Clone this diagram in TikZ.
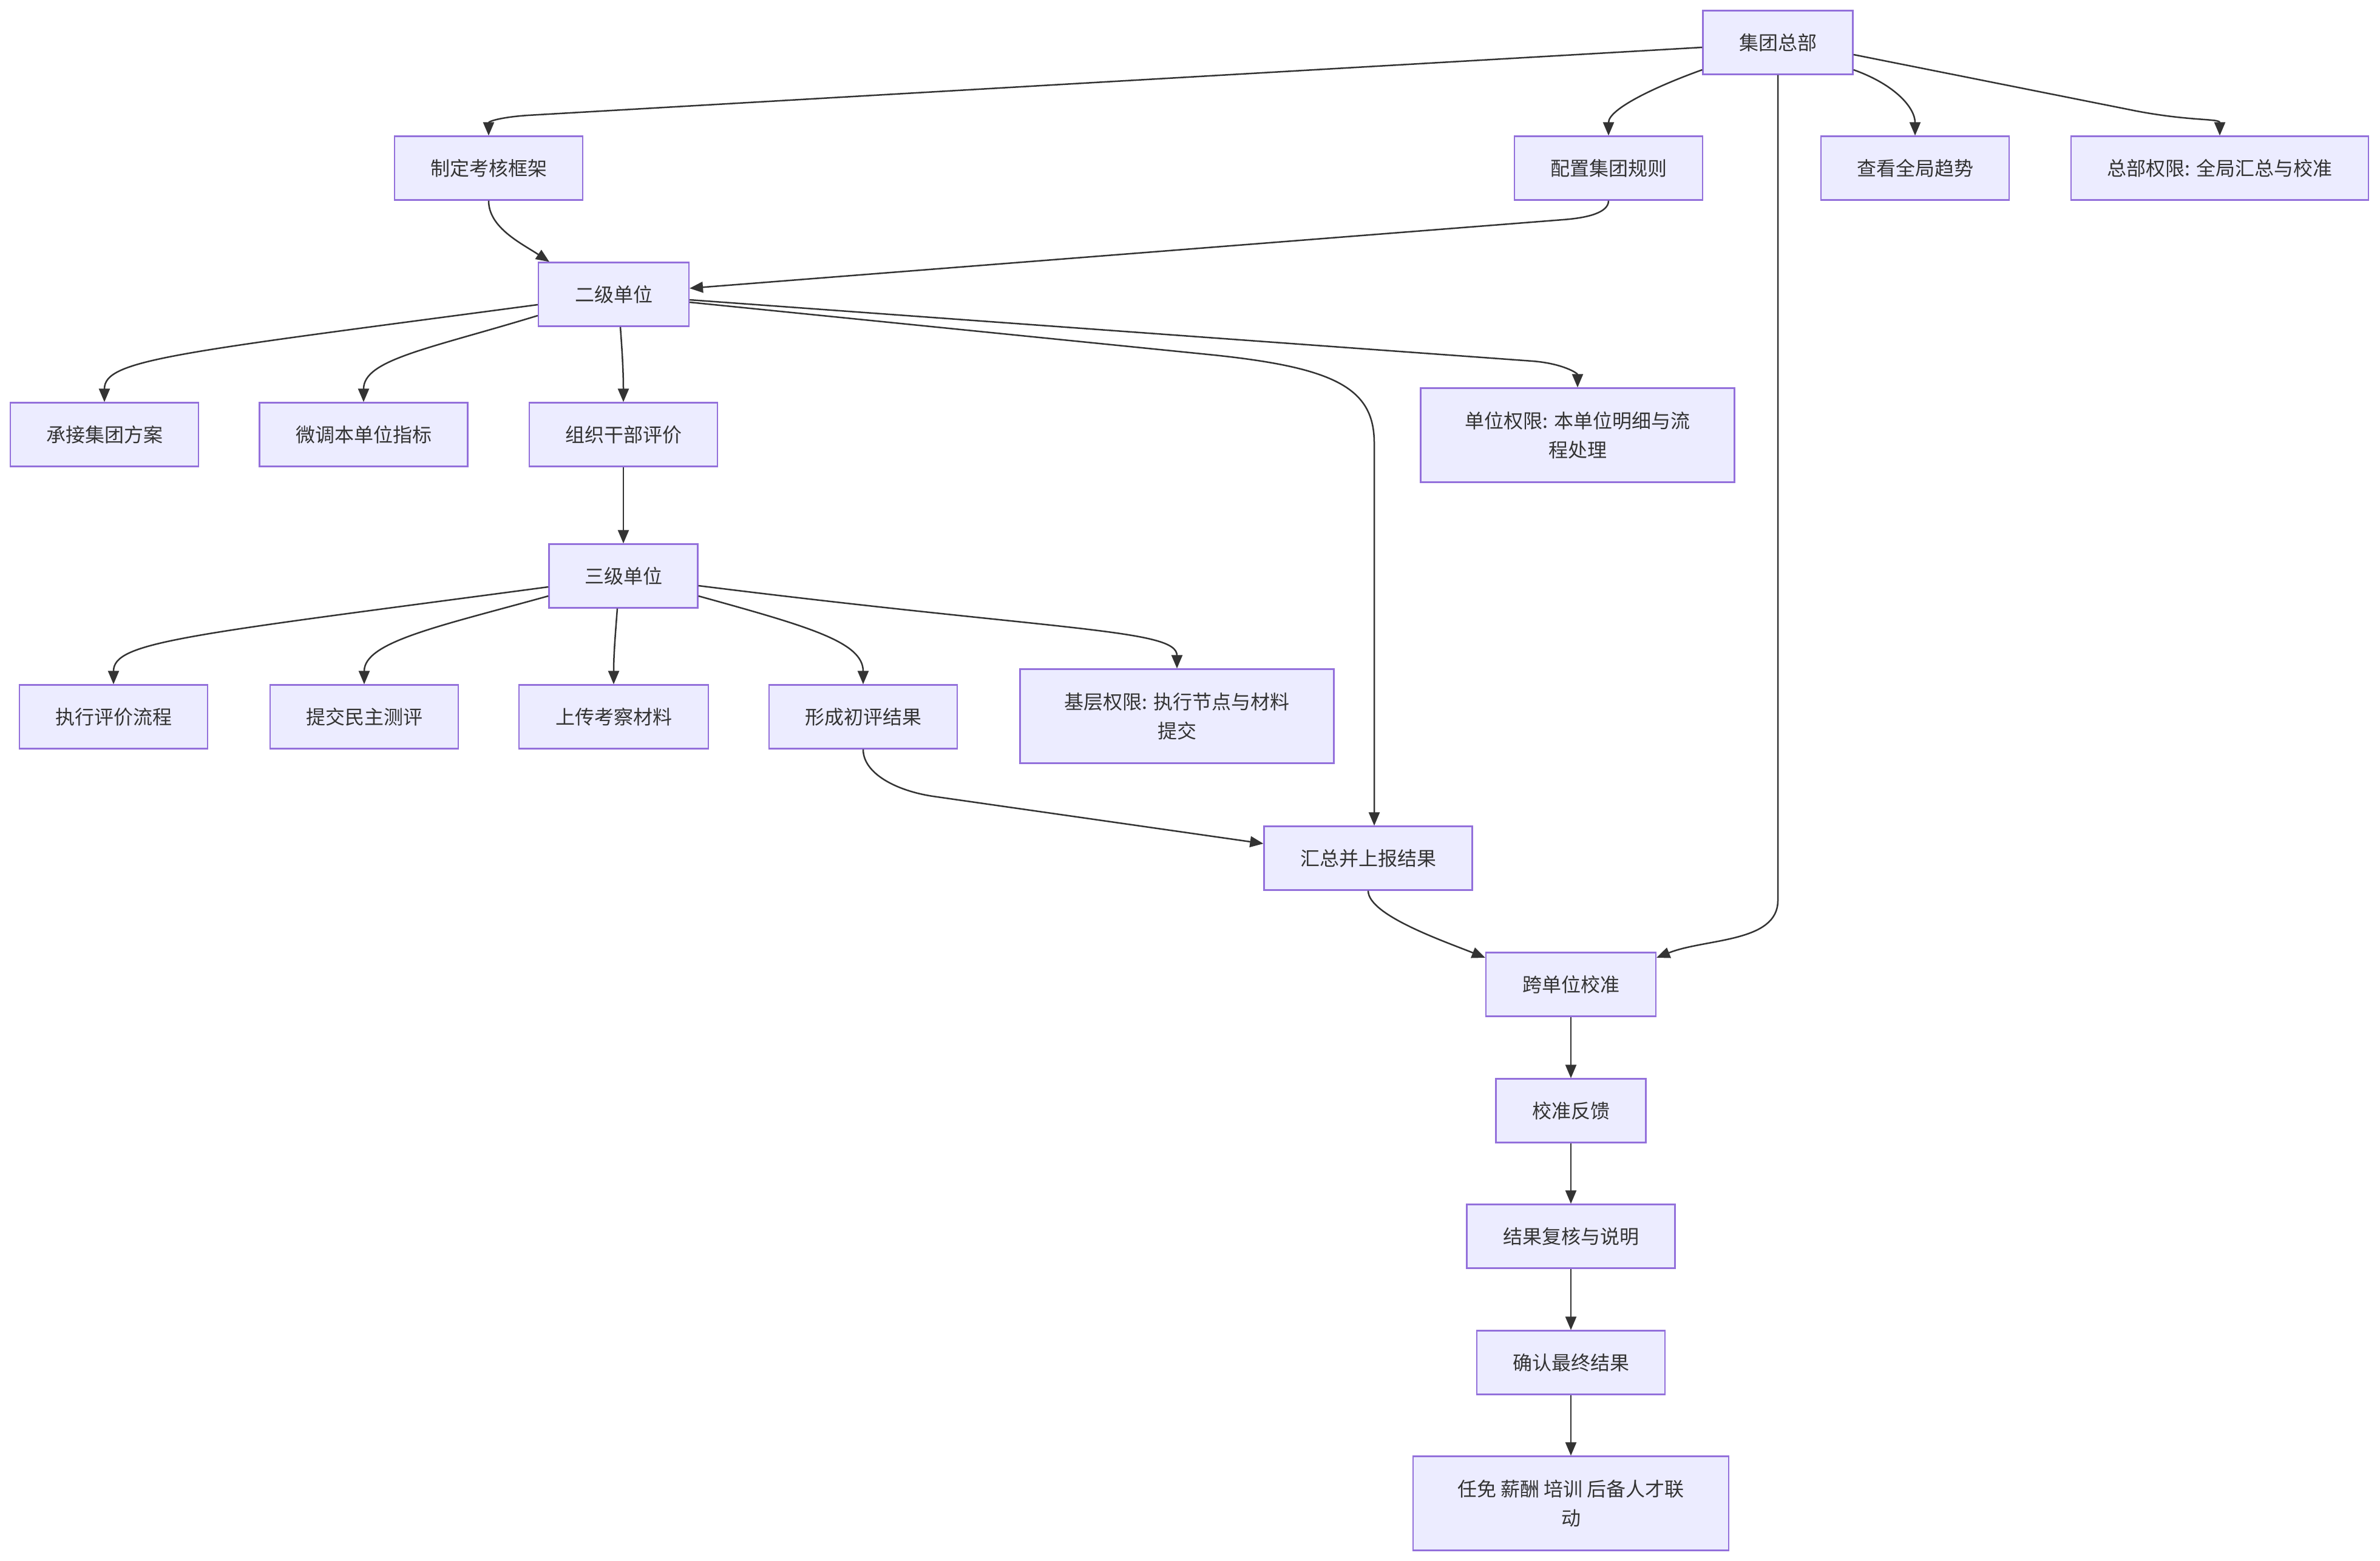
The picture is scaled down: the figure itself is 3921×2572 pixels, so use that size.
\documentclass[tikz,border=0pt]{standalone}
\usepackage{fontspec}
\setmainfont{Noto Sans CJK SC}
\usetikzlibrary{arrows.meta,calc}
\definecolor{nodefill}{HTML}{ECECFF}
\definecolor{nodeborder}{HTML}{9370DB}
\definecolor{edgecol}{HTML}{333333}
\definecolor{txt}{HTML}{333333}
\begin{document}
\begin{tikzpicture}[x=1pt,y=-1pt,
 box/.style={draw=nodeborder,fill=nodefill,line width=2.2pt,text=txt,font=\fontsize{32}{48}\selectfont,inner sep=0pt,align=center,minimum height=105pt},
 edge/.style={draw=edgecol,line width=2.5pt,-{Triangle[length=22pt,width=18pt]}}]
\path[fill=white,use as bounding box] (0,0) rectangle (3921,2572);

\node[box,minimum width=247pt] (A) at (2929,70) {集团总部};
\node[box,minimum width=310pt] (B) at (805,277) {制定考核框架};
\node[box,minimum width=310pt] (C) at (2650,277) {配置集团规则};
\node[box,minimum width=310pt] (D) at (3155,277) {查看全局趋势};
\node[box,minimum width=490pt] (E) at (3657,277) {总部权限: 全局汇总与校准};
\node[box,minimum width=248pt] (F) at (1011,485) {二级单位};
\node[box,minimum width=310pt] (G) at (172,716) {承接集团方案};
\node[box,minimum width=343pt] (H) at (599,716) {微调本单位指标};
\node[box,minimum width=310pt] (I) at (1027,716) {组织干部评价};
\node[box,minimum width=517pt,minimum height=155pt] (J) at (2599,717) {单位权限: 本单位明细与流\\程处理};
\node[box,minimum width=245pt] (K) at (1027,949) {三级单位};
\node[box,minimum width=310pt] (L) at (187,1181) {执行评价流程};
\node[box,minimum width=310pt] (M) at (600,1181) {提交民主测评};
\node[box,minimum width=312pt] (N) at (1011,1181) {上传考察材料};
\node[box,minimum width=310pt] (O) at (1422,1181) {形成初评结果};
\node[box,minimum width=517pt,minimum height=155pt] (P) at (1939,1180) {基层权限: 执行节点与材料\\提交};
\node[box,minimum width=343pt] (Q) at (2254,1414) {汇总并上报结果};
\node[box,minimum width=280pt] (R) at (2588,1622) {跨单位校准};
\node[box,minimum width=247pt] (S) at (2588,1830) {校准反馈};
\node[box,minimum width=343pt] (T) at (2588,2037) {结果复核与说明};
\node[box,minimum width=310pt] (U) at (2588,2245) {确认最终结果};
\node[box,minimum width=520pt,minimum height=155pt] (V) at (2588,2477) {任免 薪酬 培训 后备人才联\\动};

% from A
\draw[edge] ([yshift=-8pt]A.west) -- (870,190) .. controls (825,193) and (805,200) .. (B.north);
\draw[edge] ([yshift=-45pt]A.west) .. controls +(-70,25) and +(0,-45) .. (C.north);
\draw[edge] ([yshift=-45pt]A.east) .. controls +(70,25) and +(0,-45) .. (D.north);
\draw[edge] ([yshift=-20pt]A.east) -- (3520,183) .. controls (3610,200) and (3657,195) .. (E.north);
\draw[edge] (A.south) -- ++(0,1360) .. controls +(0,70) and +(80,-32) .. ([yshift=44pt]R.east);
% into F
\draw[edge] (B.south) .. controls +(0,45) and +(-45,-30) .. ([xshift=-106pt]F.north);
\draw[edge] (C.south) .. controls +(0,20) and +(40,-3) .. (2575,362) -- ([yshift=10pt]F.east);
% from F
\draw[edge] ([yshift=-17pt]F.west) .. controls +(-600,80) and +(0,-70) .. (G.north);
\draw[edge] ([yshift=-35pt]F.west) .. controls +(-180,55) and +(0,-70) .. (H.north);
\draw[edge] ([xshift=11pt]F.south) .. controls +(3,40) and +(0,-50) .. (I.north);
\draw[edge] ([yshift=-9pt]F.east) -- (2525,595) .. controls (2575,599) and (2599,615) .. (J.north);
\draw[edge] ([yshift=-13pt]F.east) -- (2000,585) .. controls (2200,606) and (2264,640) .. (2264,730) -- ([xshift=10pt]Q.north);
% I to K
\draw[edge] (I.south) -- (K.north);
% from K
\draw[edge] ([yshift=-18pt]K.west) .. controls +(-600,80) and +(0,-70) .. (L.north);
\draw[edge] ([yshift=-33pt]K.west) .. controls +(-180,50) and +(0,-70) .. (M.north);
\draw[edge] ([xshift=-10pt]K.south) .. controls +(-3,40) and +(0,-50) .. (N.north);
\draw[edge] ([yshift=-33pt]K.east) .. controls +(180,50) and +(0,-70) .. (O.north);
\draw[edge] ([yshift=-16pt]K.east) .. controls +(600,75) and +(0,-65) .. (P.north);
% O to Q
\draw[edge] (O.south) .. controls +(0,40) and +(-60,-9) .. (1537,1312) -- ([yshift=24pt]Q.west);
% Q to R
\draw[edge] (Q.south) .. controls +(0,40) and +(-70,-28) .. ([yshift=44pt]R.west);
% chain
\draw[edge] (R.south) -- (S.north);
\draw[edge] (S.south) -- (T.north);
\draw[edge] (T.south) -- (U.north);
\draw[edge] (U.south) -- (V.north);
\end{tikzpicture}
\end{document}
